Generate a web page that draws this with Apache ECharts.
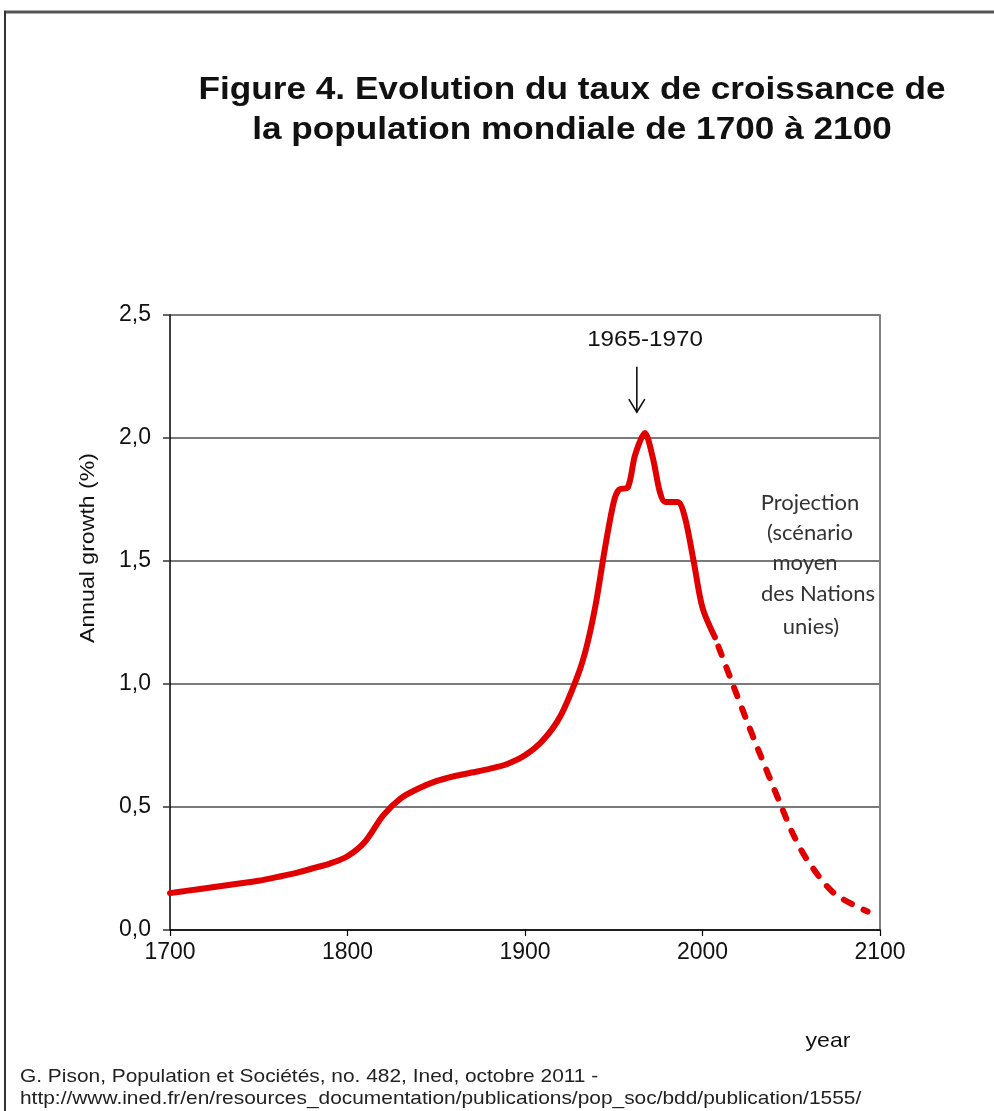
<!DOCTYPE html>
<html>
<head>
<meta charset="utf-8">
<title>Taux de croissance de la population mondiale</title>
<script src="https://cdn.jsdelivr.net/npm/echarts@6/dist/echarts.min.js"></script>
<style>
  html, body { margin: 0; padding: 0; background: #fff; }
  #chart { width: 994px; height: 1111px; }
</style>
</head>
<body>
<div id="chart"></div>
<script>
// Observed annual growth rate of world population (%), 1700 to ~2007
const years = [1700, 1710, 1720, 1730, 1740, 1750, 1760, 1770, 1780, 1790, 1800, 1810,
  1820, 1830, 1840, 1850, 1860, 1870, 1880, 1890, 1900, 1910, 1920, 1930, 1935, 1940,
  1945, 1950, 1953, 1958, 1962, 1967.5, 1972, 1976, 1979, 1986, 1990, 1995, 2000, 2007];
const growth = [0.15, 0.16, 0.17, 0.18, 0.19, 0.20, 0.215, 0.23, 0.25, 0.27, 0.30, 0.36,
  0.465, 0.535, 0.575, 0.605, 0.625, 0.64, 0.655, 0.675, 0.71, 0.77, 0.87, 1.04, 1.16, 1.33,
  1.55, 1.74, 1.79, 1.80, 1.93, 2.02, 1.92, 1.78, 1.74, 1.74, 1.68, 1.50, 1.31, 1.19];

// UN medium-variant projection
const projYears = [2007, 2017, 2025, 2031, 2044, 2051, 2059, 2074, 2093];
const projGrowth = [1.19, 1.00, 0.85, 0.74, 0.51, 0.39, 0.285, 0.15, 0.075];

// Axis ticks
const xTicks = { min: 1700, max: 2100, step: 100 };
const yTicks = { min: 0, max: 2.5, step: 0.5 };

// Peak annotation
const peakLabel = '1965-1970';
const arrowYear = 1963;
const arrowTop = 2.29;
const arrowTip = 2.105;

const titleLines = ['Figure 4. Evolution du taux de croissance de', 'la population mondiale de 1700 à 2100'];
const projectionLines = ['Projection', '(scénario', 'moyen', 'des Nations', 'unies)'];
const sourceLines = ['G. Pison, Population et Sociétés, no. 482, Ined, octobre 2011 -',
  'http://www.ined.fr/en/resources_documentation/publications/pop_soc/bdd/publication/1555/'];

const RED = '#e10000';
const SANS = '"Liberation Sans", Arial, sans-serif';

const chart = echarts.init(document.getElementById('chart'));

const pairs = (xs, ys) => xs.map((x, i) => [x, ys[i]]);

chart.setOption({
  animation: false,
  backgroundColor: '#fff',
  grid: { left: 170, right: 114, top: 315, bottom: 181, containLabel: false },
  xAxis: {
    type: 'value',
    min: xTicks.min, max: xTicks.max, interval: xTicks.step,
    axisLine: { show: true, lineStyle: { color: '#000', width: 1.5 } },
    axisTick: { show: true, length: 6, lineStyle: { color: '#000', width: 1.2 } },
    axisLabel: { fontFamily: SANS, fontSize: 23, color: '#111', margin: 11, formatter: v => String(v) },
    splitLine: { show: false }
  },
  yAxis: [{
    type: 'value',
    min: yTicks.min, max: yTicks.max, interval: yTicks.step,
    axisLine: { show: true, lineStyle: { color: '#000', width: 1.5 } },
    axisTick: { show: true, length: 7, lineStyle: { color: '#333', width: 1.5 } },
    axisLabel: {
      fontFamily: SANS, fontSize: 23, color: '#111', margin: 19,
      formatter: v => v.toFixed(1).replace('.', ',')
    },
    splitLine: { show: true, lineStyle: { color: '#7a7a7a', width: 2 } }
  }, {
    type: 'value', position: 'right',
    min: yTicks.min, max: yTicks.max, interval: yTicks.step,
    axisLine: { show: true, lineStyle: { color: '#808080', width: 2 } },
    axisTick: { show: false }, axisLabel: { show: false }, splitLine: { show: false }
  }],
  series: [{
    type: 'line',
    data: pairs(years, growth),
    smooth: 0.3,
    showSymbol: false,
    lineStyle: { color: RED, width: 6, cap: 'round', join: 'round' },
    z: 5
  }, {
    type: 'line',
    data: pairs(projYears, projGrowth),
    smooth: 0.3,
    showSymbol: false,
    lineStyle: { color: RED, width: 6, type: [9, 13], dashOffset: -10, cap: 'round' },
    z: 5
  }]
});

// Annotations placed through the chart's own coordinate system
const arrowStart = chart.convertToPixel({ xAxisIndex: 0, yAxisIndex: 0 }, [arrowYear, arrowTop]);
const arrowEnd = chart.convertToPixel({ xAxisIndex: 0, yAxisIndex: 0 }, [arrowYear, arrowTip]);

const graphics = [
  // page frame
  { type: 'line', shape: { x1: 4, y1: 12, x2: 994, y2: 12 }, style: { stroke: '#555', lineWidth: 3 } },
  { type: 'line', shape: { x1: 5, y1: 11, x2: 5, y2: 1111 }, style: { stroke: '#333', lineWidth: 2 } },
  // title
  {
    type: 'text', x: 572, y: 70, scaleX: 1.1,
    style: {
      text: titleLines.join('\n'), fontFamily: SANS, fontWeight: 'bold', fontSize: 32,
      lineHeight: 40, fill: '#111', align: 'center', verticalAlign: 'top'
    }
  },
  // y-axis name
  {
    type: 'text', x: 88, y: 548, rotation: Math.PI / 2, scaleX: 1.1,
    style: {
      text: 'Annual growth (%)', fontFamily: SANS, fontSize: 21, fill: '#111',
      align: 'center', verticalAlign: 'middle'
    }
  },
  // x-axis name
  {
    type: 'text', x: 828, y: 1041, scaleX: 1.1,
    style: { text: 'year', fontFamily: SANS, fontSize: 21, fill: '#111', align: 'center', verticalAlign: 'middle' }
  },
  // source
  {
    type: 'text', x: 20, y: 1066, scaleX: 1.1,
    style: {
      text: sourceLines.join('\n'), fontFamily: SANS, fontSize: 19, lineHeight: 22,
      fill: '#222', align: 'left', verticalAlign: 'top'
    }
  },
  // peak annotation
  {
    type: 'text', x: 645, y: 340, scaleX: 1.1,
    style: { text: peakLabel, fontFamily: SANS, fontSize: 22, fill: '#111', align: 'center', verticalAlign: 'middle' }
  },
  { type: 'line', shape: { x1: arrowStart[0], y1: arrowStart[1], x2: arrowEnd[0], y2: arrowEnd[1] }, style: { stroke: '#111', lineWidth: 1.6 } },
  {
    type: 'polyline',
    shape: { points: [[arrowEnd[0] - 8, arrowEnd[1] - 13], [arrowEnd[0], arrowEnd[1]], [arrowEnd[0] + 8, arrowEnd[1] - 13]] },
    style: { stroke: '#111', lineWidth: 1.6, fill: null }
  }
];

// projection note
const projCenters = [810, 810, 805, 818, 811];
const projY = [503, 533, 563, 594, 627];
projectionLines.forEach((t, i) => {
  graphics.push({
    type: 'text', x: projCenters[i], y: projY[i],
    style: { text: t, fontFamily: 'Lato, "Open Sans", sans-serif', fontSize: 22, fill: '#333', align: 'center', verticalAlign: 'middle' },
    z: 1
  });
});

chart.setOption({ graphic: graphics });
</script>
</body>
</html>
